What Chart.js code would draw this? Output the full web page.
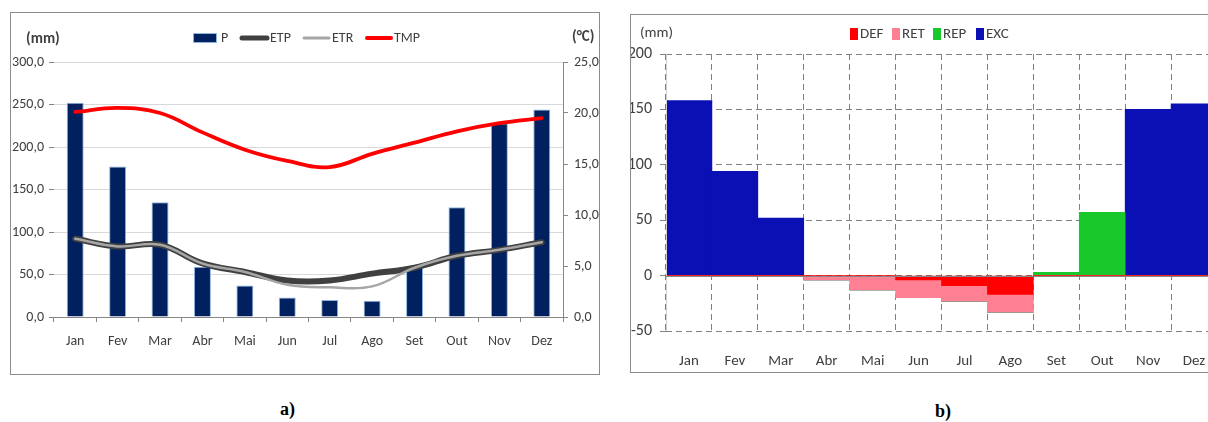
<!DOCTYPE html>
<html><head><meta charset="utf-8">
<script src="https://cdn.jsdelivr.net/npm/chart.js@4.4.1/dist/chart.umd.min.js"></script>
<style>
html,body{margin:0;padding:0;width:1208px;height:422px;overflow:hidden;background:#fff;position:relative;}
.box{position:absolute;border:1px solid #8c8c8c;box-sizing:content-box;background:#fff;}
#boxA{left:10px;top:12px;width:588px;height:361px;}
#boxB{left:630px;top:14px;width:620px;height:357px;}
canvas{display:block}
.cap{position:absolute;font-family:'Liberation Serif','Times New Roman',serif;font-weight:bold;font-size:18px;color:#000;}
</style></head><body>
<div class="box" id="boxA"><canvas id="a" width="588" height="361"></canvas></div>
<div class="box" id="boxB"><canvas id="b" width="600" height="357"></canvas></div>
<div class="cap" style="left:280px;top:399px">a)</div>
<div class="cap" style="left:935px;top:401px">b)</div>
<script>
// ---- data: chart a ----
const months = ['Jan','Fev','Mar','Abr','Mai','Jun','Jul','Ago','Set','Out','Nov','Dez'];
const P   = [252, 177, 135, 59, 37, 23, 20, 19, 59, 129, 228, 244];
const ETP = [92, 83, 85, 63, 53, 43, 43, 51, 58, 72, 79, 88];
const ETR = [92, 83, 85, 63, 53, 38, 35, 36, 58, 72, 79, 88];
const TMP = [20.1, 20.5, 20.0, 18.1, 16.4, 15.3, 14.7, 16.0, 17.1, 18.2, 19.0, 19.5];
// ---- data: chart b ----
const DEF = [0, 0, 0, 0, 0, -4, -9, -17, 0, 0, 0, 0];
const RET = [0, 0, 0, -4, -13, -16, -14, -16, 0, 0, 0, 0];
const REP = [0, 0, 0, 0, 0, 0, 0, 0, 3, 57, 0, 0];
const EXC = [158, 94, 52, 0, 0, 0, 0, 0, 0, 0, 150, 155];

const FONT = "Carlito,'Liberation Sans Narrow','DejaVu Sans Condensed','Liberation Sans',sans-serif";
const TXT = '#404040';
const fmt1 = v => Number(v).toFixed(1).replace('.', ',');

const legendA = {
  id: 'legendA',
  afterDraw(chart) {
    const c = chart.ctx;
    c.save();
    c.fillStyle = TXT; c.textBaseline = 'middle'; c.textAlign = 'left';
    c.font = 'bold 15px ' + FONT;
    c.fillText('(mm)', 15, 26);
    c.fillText('(\u00B0C)', 561, 24);
    c.font = '14px ' + FONT;
    c.fillStyle = '#002060'; c.fillRect(182, 20, 24, 10);
    c.strokeStyle = '#8db4e2'; c.lineWidth = 1; c.strokeRect(182.5, 20.5, 23, 9);
    c.fillStyle = TXT; c.fillText('P', 210, 25);
    c.lineCap = 'round';
    const ln = (x1, x2, w, col, label) => {
      c.beginPath(); c.moveTo(x1, 25); c.lineTo(x2, 25);
      c.lineWidth = w; c.strokeStyle = col; c.stroke();
      c.fillStyle = TXT; c.fillText(label, x2 + 3, 25);
    };
    ln(231, 256, 5, '#404040', 'ETP');
    ln(293, 318, 3, '#a6a6a6', 'ETR');
    ln(356, 380, 4, '#ff0000', 'TMP');
    c.restore();
  }
};

new Chart(document.getElementById('a'), {
  data: {
    labels: months,
    datasets: [
      { type: 'bar', label: 'P', data: P, yAxisID: 'y', order: 4,
        backgroundColor: '#002060', borderColor: '#8db4e2', borderWidth: 1,
        barPercentage: 0.4, categoryPercentage: 1 },
      { type: 'line', label: 'ETP', data: ETP, yAxisID: 'y', order: 3,
        borderColor: '#404040', borderWidth: 6, pointRadius: 0, tension: 0.4, borderCapStyle: 'round' },
      { type: 'line', label: 'ETR', data: ETR, yAxisID: 'y', order: 2,
        borderColor: '#a6a6a6', borderWidth: 2.5, pointRadius: 0, tension: 0.4, borderCapStyle: 'round' },
      { type: 'line', label: 'TMP', data: TMP, yAxisID: 'y1', order: 1,
        borderColor: '#ff0000', borderWidth: 3.8, pointRadius: 0, tension: 0.4, borderCapStyle: 'round' }
    ]
  },
  options: {
    responsive: false, animation: false,
    layout: { padding: { top: 49, left: 0, right: 0, bottom: 0 } },
    plugins: { legend: { display: false }, tooltip: { enabled: false } },
    scales: {
      x: {
        offset: true,
        grid: { display: true, drawOnChartArea: false, drawTicks: true, tickLength: 5, offset: true, tickColor: '#868686' },
        border: { display: true, color: '#868686' },
        ticks: { color: TXT, font: { family: FONT, size: 14 }, padding: 11 },
        afterFit: s => { s.height = 57; }
      },
      y: {
        position: 'left', min: 0, max: 300,
        ticks: { stepSize: 50, color: TXT, font: { family: FONT, size: 14 }, padding: 5, callback: fmt1 },
        grid: { color: '#d9d9d9', tickColor: '#868686', tickLength: 5 },
        border: { display: false },
        afterFit: s => { s.width = 43; }
      },
      y1: {
        position: 'right', min: 0, max: 25,
        ticks: { stepSize: 5, color: TXT, font: { family: FONT, size: 14 }, padding: 6, callback: fmt1 },
        grid: { drawOnChartArea: false, tickColor: '#868686', tickLength: 5 },
        border: { display: true, color: '#868686' },
        afterFit: s => { s.width = 36; }
      }
    }
  },
  plugins: [legendA]
});

const legendB = {
  id: 'legendB',
  afterDatasetsDraw(chart) {
    const c = chart.ctx, a = chart.chartArea, ys = chart.scales.y;
    c.save();
    c.strokeStyle = '#d0d0d0'; c.lineWidth = 1;
    c.beginPath(); c.moveTo(a.left + 0.5, a.top); c.lineTo(a.left + 0.5, a.bottom); c.stroke();
    const y0 = Math.round(ys.getPixelForValue(0)) + 0.5;
    c.strokeStyle = '#868686'; c.lineWidth = 1.2;
    c.beginPath(); c.moveTo(a.left, y0); c.lineTo(a.right, y0); c.stroke();
    c.restore();
  },
  afterDraw(chart) {
    const c = chart.ctx;
    c.save();
    c.textBaseline = 'middle'; c.textAlign = 'left';
    c.font = '15px ' + FONT; c.fillStyle = TXT;
    c.fillText('(mm)', 9, 18);
    const items = [[219, '#ff0000', 'DEF'], [261, '#ff8092', 'RET'], [302, '#19c82a', 'REP'], [345, '#0a10b4', 'EXC']];
    items.forEach(([x, col, lab]) => {
      c.fillStyle = col; c.fillRect(x, 13, 8, 12);
      c.fillStyle = TXT; c.fillText(lab, x + 10, 19);
    });
    c.restore();
  }
};

new Chart(document.getElementById('b'), {
  type: 'bar',
  data: {
    labels: months,
    datasets: [
      { label: 'DEF', data: DEF, backgroundColor: '#ff0000' },
      { label: 'RET', data: RET, backgroundColor: '#ff8092' },
      { label: 'REP', data: REP, backgroundColor: '#19c82a' },
      { label: 'EXC', data: EXC, backgroundColor: '#0a10b4' }
    ]
  },
  options: {
    responsive: false, animation: false,
    datasets: { bar: { barPercentage: 1, categoryPercentage: 1, borderWidth: 0 } },
    layout: { padding: { top: 39, left: 0, right: 14, bottom: 0 } },
    plugins: { legend: { display: false }, tooltip: { enabled: false } },
    scales: {
      x: {
        stacked: true,
        grid: { color: '#808080', drawTicks: false, offset: true },
        border: { display: false, dash: [6, 4] },
        ticks: { color: TXT, font: { family: FONT, size: 15 }, padding: 21 },
        afterFit: s => { s.height = 41; }
      },
      y: {
        stacked: true, min: -50, max: 200,
        ticks: { stepSize: 50, color: TXT, font: { family: FONT, size: 16 }, padding: 8 },
        grid: { color: '#808080', tickColor: '#808080', tickLength: 6 },
        border: { display: false, dash: [6, 4] },
        afterFit: s => { s.width = 35; }
      }
    }
  },
  plugins: [legendB]
});
</script>
</body></html>
